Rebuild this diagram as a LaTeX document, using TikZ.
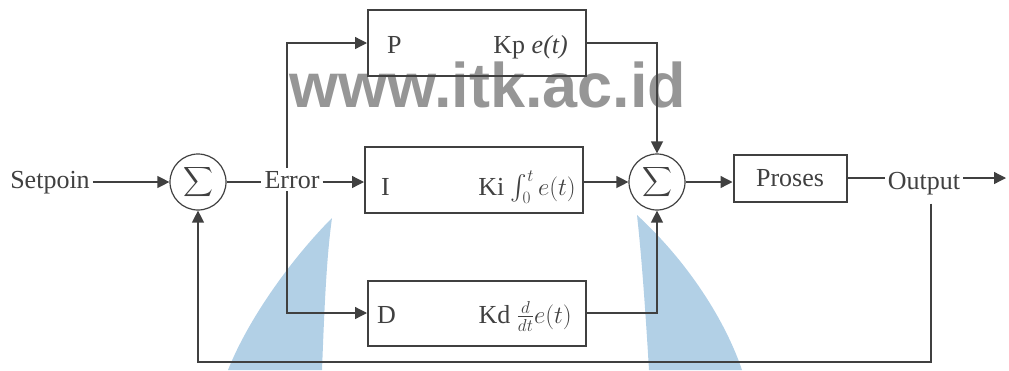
\documentclass[tikz,border=0pt]{standalone}
\usepackage{amsmath}
\usepackage{fontspec}
\setmainfont{Liberation Serif}
\newfontfamily\wmfont{Liberation Sans}
\usetikzlibrary{arrows.meta,positioning}
\definecolor{ink}{RGB}{64,64,64}
\definecolor{wmgray}{RGB}{150,150,150}
\definecolor{wmblue}{RGB}{178,208,230}
\newcommand{\bigtext}{\fontsize{26}{30}\selectfont}
\tikzset{
  blockbox/.style={draw=ink, line width=2pt, minimum width=218pt, minimum height=66pt},
  procbox/.style={draw=ink, line width=2pt, minimum width=113pt, minimum height=47pt,
    text=ink, font=\bigtext},
  sumnode/.style={circle, draw=ink, line width=1.2pt, minimum size=56pt, inner sep=0pt,
    text=ink, font=\fontsize{22}{22}\selectfont},
  sigtext/.style={text=ink, font=\bigtext, inner sep=3pt},
  flow/.style={-{Triangle[length=12pt,width=12pt]}, draw=ink, line width=1.3pt},
  wire/.style={draw=ink, line width=1.3pt},
  wmtext/.style={text=wmgray, font=\wmfont\bfseries\fontsize{63}{63}\selectfont,
    inner sep=0pt, anchor=base}
}

\begin{document}
\begin{tikzpicture}[x=1pt,y=-1pt]
\useasboundingbox (0,0) rectangle (1009,370);
\fill[wmblue] (332,218) .. controls (295,255) and (250,315) .. (228,370) -- (322,370)
  .. controls (324,320) and (326,260) .. (332,218) -- cycle;
\fill[wmblue] (637,215) .. controls (688,262) and (725,320) .. (742,370) -- (649,370)
  .. controls (646,320) and (642,260) .. (637,215) -- cycle;
\node[wmtext] (wm) at (488,107) {www.itk.ac.id};

\node[sigtext, anchor=base] (setp) at (50,188) {Setpoin};
\node[sumnode] (sum1) at (198,182) {$\displaystyle\sum$};
\node[sigtext, anchor=base, fill=white] (err) at (292,188) {Error};
\node[blockbox] (pbox) at (477,43) {};
\node[blockbox] (ibox) at (474,180) {};
\node[blockbox, minimum height=65pt] (dbox) at (477,313) {};
\node[sumnode] (sum2) at (657,182) {$\displaystyle\sum$};
\node[procbox] (proses) at (790,178) {Proses};
\node[sigtext, anchor=base] (out) at (924,189) {Output};

\node[sigtext, anchor=base west] (plab) at (384,53) {P};
\node[sigtext, anchor=base east] (pgain) at (571,53) {Kp \textit{e(t)}};
\node[sigtext, anchor=base west] (ilab) at (378,195) {I};
\node[sigtext, anchor=base east] (igain) at (579,195) {Ki $\int_0^t e(t)$};
\node[sigtext, anchor=base west] (dlab) at (374,323) {D};
\node[sigtext, anchor=base east] (dgain) at (575,323) {Kd $\frac{d}{dt}e(t)$};

\coordinate (brx) at (287,182);
\coordinate (outend) at (1006,178);
\coordinate (fbr) at (931,362);

\draw[flow] (setp.east |- sum1) -- (sum1.west);
\draw[wire] (sum1.east) -- (sum1.east -| err.west);
\draw[flow] (err.east |- sum1) -- (sum1 -| ibox.west);
\draw[flow] (err.north -| brx) |- (pbox.west);
\draw[flow] (err.south -| brx) |- (dbox.west);
\draw[flow] (pbox.east) -| (sum2.north);
\draw[flow] (ibox.east |- sum2) -- (sum2.west);
\draw[flow] (dbox.east) -| (sum2.south);
\draw[flow] (sum2.east) -- (sum2.east -| proses.west);
\draw[wire] (proses.east) -- (proses.east -| out.west);
\draw[flow] (out.east |- outend) -- (outend);
\draw[flow, shorten <=6pt] (out.south -| fbr) -- (fbr) -| (sum1.south);
\end{tikzpicture}
\end{document}
